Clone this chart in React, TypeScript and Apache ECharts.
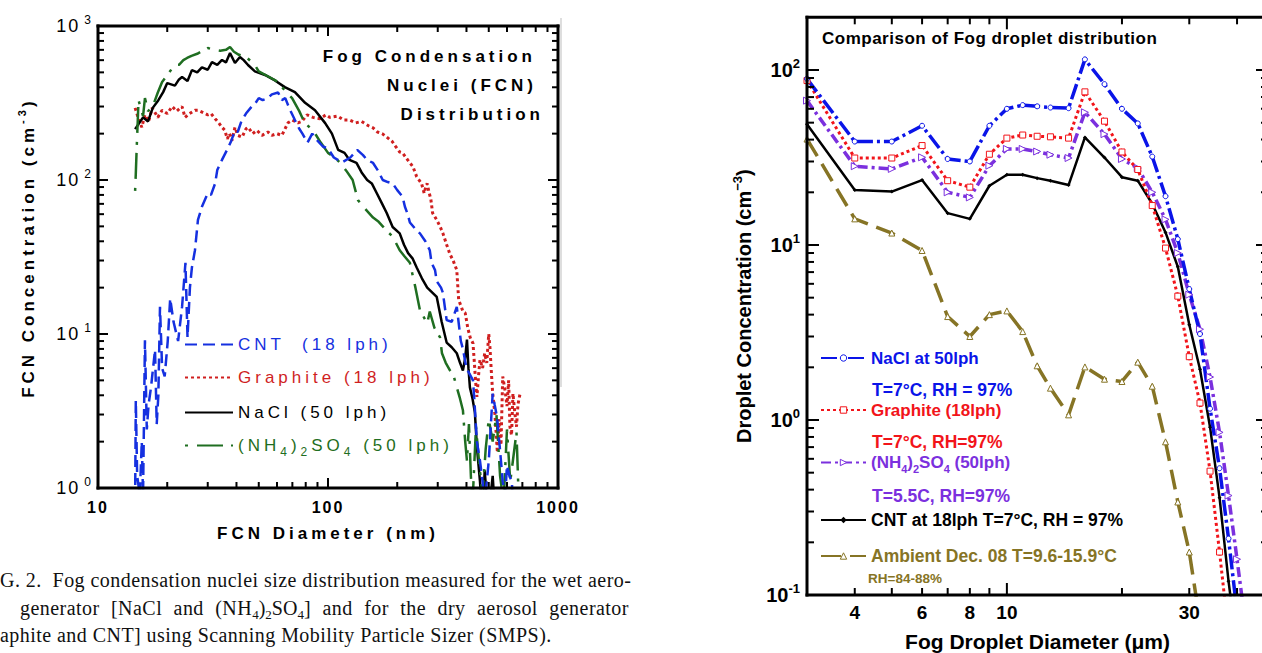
import React, { useEffect, useRef } from "react";
import * as echarts from "echarts";

// ================= Left panel: FCN size distribution (SMPS) =================
const cntD = [14.5, 14.6, 14.8, 15.2, 15.5, 15.7, 16.0, 16.3, 16.6, 17.0, 17.7, 18.0, 18.3, 18.6, 19.0, 19.5, 20.1, 20.6, 21.3, 22.3, 23.2, 24.0, 24.5, 25.1, 25.6, 26.4, 27.2, 28.3, 30, 31, 32.3, 33, 34.6, 36.4, 38, 39.4, 40.5, 42, 44, 46.6, 48, 50, 52, 54.8, 57, 60.7, 63, 65.2, 68, 71.8, 75, 77.4, 81.5, 85.4, 90, 95, 100, 106, 115, 125, 134, 142, 148, 157, 165, 173, 182, 191, 200, 211, 216, 222, 227, 240, 251, 265, 277, 282, 292, 297, 310, 316, 322, 328, 345, 363, 372, 378, 386, 400, 427, 432, 444, 458, 470, 480, 500, 520, 530, 543, 559, 575, 590, 600, 615, 630, 640];
const cntV = [0.8, 3.7, 1.2, 0.9, 2.0, 0.9, 9.1, 2.4, 3.5, 4.5, 7.9, 2.6, 4, 15, 6, 5.3, 9, 17, 12, 9, 15, 29, 9.5, 20, 27, 35, 55, 67, 82, 80, 95, 116, 135, 157, 180, 210, 205, 240, 270, 300, 310, 340, 330, 340, 360, 370, 330, 340, 290, 245, 215, 200, 175, 200, 180, 165, 160, 140, 130, 140, 157, 145, 135, 129, 115, 100, 97, 95, 86, 78, 67, 60, 53, 48, 45, 40, 35, 29, 26, 22, 20, 18.5, 15, 12.3, 12, 15, 11, 9, 8, 6, 5, 3.9, 2, 1.5, 1.1, 0.8, 1.5, 4.1, 3.5, 2.9, 1.8, 1.1, 0.9, 1.4, 1.2, 1.1, 0.7];

const graphiteD = [14.5, 15.0, 15.5, 16.0, 16.6, 17.2, 17.8, 18.2, 19, 20, 21, 22, 23.2, 23.9, 25, 26.4, 27.2, 28.5, 30, 31, 32.3, 33.5, 34.6, 35.6, 36.5, 37.3, 38.2, 39.4, 40.5, 42.3, 44, 45, 47, 49, 51.7, 54.8, 57, 60, 63, 67, 70, 74, 77, 81, 86, 92, 98, 102, 110, 117, 124, 132, 140, 150, 157, 164, 172, 180, 190, 197, 205, 211, 222, 234, 243, 255, 262, 266, 270, 274, 280, 285, 297, 307, 316, 328, 339, 350, 363, 370, 380, 386, 395, 405, 415, 427, 432, 438, 444, 452, 458, 470, 480, 490, 500, 506, 512, 520, 532, 545, 555, 565, 575, 590, 600, 610, 618, 628, 637, 650, 660, 670, 684];
const graphiteV = [294, 250, 220, 265, 240, 294, 270, 255, 284, 270, 300, 280, 300, 255, 270, 284, 284, 275, 265, 270, 250, 235, 220, 210, 185, 200, 180, 220, 195, 190, 215, 220, 200, 210, 195, 205, 195, 200, 195, 235, 245, 235, 240, 265, 255, 250, 265, 255, 260, 245, 245, 235, 240, 225, 218, 205, 200, 190, 178, 165, 152, 150, 135, 122, 105, 95, 82, 90, 95, 85, 75, 61, 55, 50, 45, 38, 33, 30, 26, 16.6, 15, 14, 13.7, 11, 9.5, 8.7, 6.8, 5, 3.9, 5.5, 6.8, 6, 7.5, 6.5, 10, 8.2, 6, 4.1, 3, 1.7, 2.8, 1.9, 5.3, 4.2, 3.4, 5, 2.5, 2.2, 4.1, 3, 2.5, 3.5, 4.1];

const naclD = [14.5, 15.7, 16.5, 17.3, 18.3, 19.2, 20, 21.6, 22.5, 23.2, 24.5, 25.6, 27, 28.3, 30, 31.3, 33, 34.6, 36, 37.5, 39.4, 41.4, 43, 44.9, 48.1, 53.2, 58.8, 64.9, 71.8, 79.5, 87.8, 97.2, 104, 110.7, 118, 124, 133, 140, 148, 155, 163, 172, 180, 191, 205, 214, 223, 233, 243, 256, 270, 285, 297, 312, 328, 345, 363, 375, 386, 395, 402, 408, 414, 425, 435, 444, 458, 470, 480, 495, 510, 520, 540];
const naclV = [214, 255, 240, 294, 330, 372, 426, 410, 450, 466, 440, 517, 500, 539, 520, 583, 560, 602, 580, 667, 575, 629, 600, 558, 507, 481, 443, 401, 372, 317, 284, 234, 200, 157, 150, 135, 129, 112, 100, 95, 82, 70, 61, 49.5, 45, 38, 33.5, 31, 27, 23, 20, 18.5, 17.4, 12, 8.8, 8.2, 7.5, 6.5, 5.8, 7, 9.2, 6, 4.5, 3.8, 3.1, 1.85, 1.1, 0.6, 1.3, 0.7, 0.9, 1.2, 0.5];

const ammD = [14.5, 14.6, 14.75, 14.9, 15.0, 15.7, 16.0, 16.5, 17.3, 18.2, 19, 20, 21, 21.6, 22.5, 23.5, 24.4, 25.5, 27, 28.5, 30, 32, 34, 36, 37.5, 39, 41, 44, 48, 50, 55, 60.7, 65, 69.8, 75, 79, 87, 93, 100, 107, 113, 120, 128, 135, 145, 157, 165, 173, 182, 191, 205, 215, 227, 240, 251, 260, 270, 277, 290, 307, 313, 325, 339, 350, 363, 375, 386, 395, 402, 410, 418, 425, 440, 455, 470, 485, 500, 520, 540, 560, 580, 600, 620, 660, 680];
const ammV = [85, 110, 170, 250, 330, 260, 340, 280, 300, 370, 433, 480, 530, 558, 560, 600, 620, 640, 660, 690, 720, 700, 690, 700, 730, 680, 650, 630, 560, 507, 470, 433, 380, 340, 280, 237, 205, 175, 150, 140, 129, 115, 100, 74, 65, 57, 54, 50, 46, 43, 35, 32, 29, 20, 14.3, 13, 11.7, 14, 11, 9.5, 7.5, 6.5, 5.8, 5.5, 4.5, 3.8, 3.2, 2.0, 1.5, 2.6, 1.2, 0.8, 2.5, 1.4, 0.9, 1.8, 2.8, 2.0, 3.0, 1.2, 0.8, 2.4, 1.1, 2.3, 0.6];

const leftXMajorTicks = [10, 100, 1000];
const leftXMinorTicks = [20, 30, 40, 50, 60, 70, 80, 90, 200, 300, 400, 500, 600, 700, 800, 900];
const leftXTickLabels = [10, 100, 1000];
const leftYMajorTicks = [1, 10, 100, 1000];
const leftYMinorTicks = [2, 3, 4, 5, 6, 7, 8, 9, 20, 30, 40, 50, 60, 70, 80, 90, 200, 300, 400, 500, 600, 700, 800, 900];

// ================= Right panel: fog droplet distribution =================
const dropletD = [3, 4, 5, 6, 7, 8, 9, 10, 11, 12, 13, 14.5, 16, 18, 20, 22, 24, 26, 28, 30, 32, 34, 36, 38, 40, 42];
const naclFogV = [89, 39, 39, 48, 31, 30, 48, 60, 63, 62, 61, 60.5, 115, 83, 60, 49.5, 32, 19, 10.8, 5.6, 3.1, 1.16, 0.53, 0.21, 0.08];
const graphiteFogV = [87, 31.4, 31.4, 37, 23.3, 21.4, 33, 40.8, 42.5, 41.8, 41.5, 40.8, 75, 51, 34, 27, 16.8, 9.6, 5.1, 2.3, 1.25, 0.51, 0.176, 0.06];
const ammFogV = [66.8, 28.2, 27.2, 31.7, 20, 18.7, 28.4, 35.4, 35.4, 34.2, 32.8, 31.4, 57.3, 43, 31, 27.5, 20, 14, 9, 5.2, 3.3, 1.76, 0.85, 0.37, 0.16, 0.07];
const cntFogV = [49, 20.6, 20.2, 23.5, 15.2, 14.1, 21.8, 25.2, 25.2, 24.1, 23.3, 22, 41.2, 31.6, 24.4, 23.3, 17.2, 11.8, 7.5, 3.5, 1.95, 0.91, 0.36, 0.12, 0.05];
const ambientFogV = [40.3, 14.1, 11.7, 9.3, 3.9, 3.0, 4.0, 4.2, 3.2, 2.04, 1.52, 1.07, 2.01, 1.71, 1.66, 2.14, 1.56, 0.75, 0.34, 0.176, 0.07];

const rightXMajorTicks = [10];
const rightXMinorTicks = [4, 5, 6, 7, 8, 9, 20, 30, 40];
const rightXTickLabels = [4, 6, 8, 10, 30];
const rightYMajorTicks = [0.1, 1, 10, 100];
const rightYMinorTicks = [0.2, 0.3, 0.4, 0.5, 0.6, 0.7, 0.8, 0.9, 2, 3, 4, 5, 6, 7, 8, 9, 20, 30, 40, 50, 60, 70, 80, 90];

// axis ranges
const L_X = [10, 1000];
const L_Y = [1, 1000];
const R_X = [3, 48.2];
const R_Y = [0.1, 200];

// ---------------- styling ----------------
const FONT = "Liberation Sans";
const SERIF = "Liberation Serif";
// font-family aliases that fall back to the real fonts; the CSS below adds letter spacing
const SP4 = "SpacedA, Liberation Sans";
const SP2 = "SpacedB, Liberation Sans";
const SPT = "SpacedD, Liberation Sans";
const SPC = "SpacedC, Liberation Serif";
const SPJ = "SpacedJ, Liberation Serif";
const SPACING_CSS = `
text[style*="SpacedA"]{letter-spacing:4px}
text[style*="SpacedB"]{letter-spacing:2px}
text[style*="SpacedD"]{letter-spacing:0.5px}
text[style*="SpacedC"]{letter-spacing:0.45px}
text[style*="SpacedJ"]{letter-spacing:0.45px;word-spacing:6px}
`;

const C_CNT = "#1530e0";
const C_GRA = "#d01f1f";
const C_AMM = "#1f6e21";
const R_BLUE = "#0a14e8";
const R_RED = "#f2141a";
const R_PURPLE = "#7b30de";
const R_OLIVE = "#867425";

function pairs(d: number[], v: number[]) {
  return v.map((y, i) => [d[i], y]);
}

const powLabel = (v: number) => `{b|10}{s|${Math.round(Math.log10(v))}}`;

const txt = (text: string, x: number, y: number, fill: string, fontSize: number, opts: any = {}) => ({
  type: "text",
  x,
  y,
  silent: true,
  style: {
    text,
    fill,
    fontSize,
    fontFamily: FONT,
    fontWeight: "bold",
    textAlign: "left",
    verticalAlign: "middle",
    textVerticalAlign: "middle",
    ...opts,
  },
});

function baseGraphic() {
  return [
    { type: "line", silent: true, shape: { x1: 561, y1: 18, x2: 561, y2: 387 }, style: { stroke: "#bdbdbd", lineWidth: 1 } },
    txt("Fog Condensation", 536, 56, "#000", 17, { textAlign: "right", fontFamily: SP4 }),
    txt("Nuclei (FCN)", 537, 85, "#000", 17, { textAlign: "right", fontFamily: SP4 }),
    txt("Distribution", 544, 114, "#000", 17, { textAlign: "right", fontFamily: SP4 }),
    {
      type: "group",
      x: 28,
      y: 124,
      rotation: Math.PI / 2,
      silent: true,
      children: [
        { type: "text", x: 0, y: 0, style: { text: "FCN Concentration (cm", fill: "#000", fontSize: 17, fontWeight: "bold", fontFamily: SP4, textAlign: "right", verticalAlign: "middle" } },
        { type: "text", x: 0, y: -6, style: { text: "-3", fill: "#000", fontSize: 11, fontWeight: "bold", fontFamily: SP4, textAlign: "left", verticalAlign: "middle" } },
        { type: "text", x: 17, y: 0, style: { text: ")", fill: "#000", fontSize: 17, fontWeight: "bold", fontFamily: SP4, textAlign: "left", verticalAlign: "middle" } },
      ],
    },
    txt("Comparison of Fog droplet distribution", 822, 38, "#000", 17, { fontFamily: SPT }),
    txt("T=7\u00b0C, RH = 97%", 872, 390, R_BLUE, 17.5),
    txt("T=7\u00b0C, RH=97%", 872, 442, R_RED, 17.5),
    txt("T=5.5C, RH=97%", 872, 496, R_PURPLE, 17.5),
    txt("RH=84-88%", 868, 578, R_OLIVE, 13.5),
    txt("G. 2.  Fog condensation nuclei size distribution measured for the wet aero-", 0, 580, "#111", 20, { fontFamily: SPC, fontWeight: "normal" }),
    {
      type: "text",
      x: 20,
      y: 608,
      silent: true,
      style: {
        text: "{j|generator [NaCl and (NH}{b|4}{n|)}{b|2}{m|SO}{b|4}{k|] and for the dry aerosol generator}",
        fill: "#111",
        fontSize: 20,
        fontFamily: SERIF,
        verticalAlign: "middle",
        textVerticalAlign: "middle",
        rich: {
          j: { fontSize: 20, fontFamily: SPJ, fill: "#111", color: "#111", lineHeight: 26, padding: [0, 28.4, 0, 0] },
          n: { fontSize: 20, fontFamily: SERIF, fill: "#111", color: "#111", lineHeight: 26 },
          m: { fontSize: 20, fontFamily: SERIF, fill: "#111", color: "#111", lineHeight: 26 },
          k: { fontSize: 20, fontFamily: SPJ, fill: "#111", color: "#111", lineHeight: 26 },
          b: { fontSize: 13, fontFamily: SERIF, fill: "#111", color: "#111", lineHeight: 15, verticalAlign: "bottom" },
        },
      },
    },
    txt("aphite and CNT] using Scanning Mobility Particle Sizer (SMPS).", 0, 635, "#111", 20, { fontFamily: SPC, fontWeight: "normal" }),
  ];
}

function buildOption() {
  const baseAxis = (gridIndex: number, range: number[]) => ({
    type: "log",
    logBase: 10,
    gridIndex,
    min: range[0],
    max: range[1],
    splitLine: { show: false },
    minorTick: { show: false },
    minorSplitLine: { show: false },
    axisLine: { show: false, onZero: false },
    axisTick: { show: false },
    axisPointer: { show: false },
    silent: true,
  });

  const xAxis = [
    {
      ...baseAxis(0, L_X),
      position: "bottom",
      axisLabel: { customValues: leftXTickLabels, formatter: (v: number) => String(v), margin: 11, color: "#000", fontSize: 16, fontWeight: "bold", fontFamily: SP2 },
      name: "FCN Diameter (nm)",
      nameLocation: "middle",
      nameGap: 37,
      nameTextStyle: { color: "#000", fontSize: 17, fontWeight: "bold", fontFamily: SP4 },
    },
    {
      ...baseAxis(1, R_X),
      position: "bottom",
      axisLabel: { customValues: rightXTickLabels, formatter: (v: number) => String(v), margin: 8, color: "#000", fontSize: 19, fontWeight: "bold", fontFamily: FONT },
      name: "Fog Droplet Diameter (\u03bcm)",
      nameLocation: "middle",
      nameGap: 36,
      nameTextStyle: { color: "#000", fontSize: 21, fontWeight: "bold", fontFamily: FONT },
    },
  ];

  const yAxis = [
    {
      ...baseAxis(0, L_Y),
      position: "left",
      axisLabel: {
        customValues: leftYMajorTicks,
        formatter: powLabel,
        margin: 7,
        color: "#000",
        rich: {
          b: { fontSize: 18, fontFamily: SP2, color: "#000", lineHeight: 24, padding: [0, 4, 0, 0] },
          s: { fontSize: 12, fontFamily: FONT, color: "#000", lineHeight: 13, verticalAlign: "top" },
        },
      },
    },
    {
      ...baseAxis(1, R_Y),
      position: "left",
      axisLabel: {
        customValues: rightYMajorTicks,
        formatter: powLabel,
        margin: 7,
        color: "#000",
        rich: {
          b: { fontSize: 20, fontWeight: "bold", fontFamily: FONT, color: "#000", lineHeight: 26 },
          s: { fontSize: 13, fontWeight: "bold", fontFamily: FONT, color: "#000", lineHeight: 14, verticalAlign: "top" },
        },
      },
      name: "{a|Droplet Concentration (cm}{s|\u22123}{a|)}",
      nameLocation: "middle",
      nameGap: 50,
      nameTextStyle: {
        rich: {
          a: { fontSize: 20, fontWeight: "bold", fontFamily: FONT, color: "#000", lineHeight: 26 },
          s: { fontSize: 13, fontWeight: "bold", fontFamily: FONT, color: "#000", lineHeight: 14, verticalAlign: "top" },
        },
      },
    },
  ];

  const leftSeries = (name: string, d: number[], v: number[], color: string, width: number, type: any) => ({
    type: "line", name, xAxisIndex: 0, yAxisIndex: 0, data: pairs(d, v), symbol: "none", clip: true, silent: true,
    lineStyle: { color, width, type }, itemStyle: { color },
  });

  const rightSeries = (name: string, v: number[], color: string, width: number, type: any, symbol: string, symbolSize: number, rotate: number, hollow: boolean) => ({
    type: "line", name, xAxisIndex: 1, yAxisIndex: 1, data: pairs(dropletD, v), symbol, symbolSize, symbolRotate: rotate, showSymbol: true, clip: true, silent: true,
    lineStyle: { color, width, type },
    itemStyle: hollow ? { color: "#fff", borderColor: color, borderWidth: 1 } : { color },
  });

  const leftLegend = (name: string, top: number, color: string, extra: any = {}) => ({
    show: true, data: [name], left: 184, top, padding: 0, itemGap: 0, itemWidth: 48, itemHeight: 10, selectedMode: false,
    itemStyle: { opacity: 0 },
    textStyle: { color, fontSize: 17, fontFamily: SP4, ...(extra.textStyle || {}) },
    ...(extra.formatter ? { formatter: extra.formatter } : {}),
  });

  const rightLegend = (name: string, top: number, color: string, itemStyle: any, extra: any = {}) => ({
    show: true, data: [name], left: 820, top, padding: 0, itemGap: 0, itemWidth: 45, itemHeight: 8, selectedMode: false,
    itemStyle,
    textStyle: { color, fontSize: 17, fontWeight: "bold", fontFamily: FONT, ...(extra.textStyle || {}) },
    ...(extra.formatter ? { formatter: extra.formatter } : {}),
  });

  const ammRichLeft = {
    t3: { fontSize: 17, fontFamily: SP4, color: C_AMM, lineHeight: 24, padding: [0, 12, 0, 0] },
    t1: { fontSize: 17, fontFamily: SP4, color: C_AMM, lineHeight: 24, padding: [0, 4, 0, 0] },
    t2: { fontSize: 17, fontFamily: SP4, color: C_AMM, lineHeight: 24, padding: [0, 8, 0, 0] },
    t9: { fontSize: 17, fontFamily: SP4, color: C_AMM, lineHeight: 24, padding: [0, 36, 0, 0] },
    s: { fontSize: 12, fontFamily: SP4, color: C_AMM, lineHeight: 12, verticalAlign: "bottom", padding: [0, 4, 0, 0] },
  };

  return {
    animation: false,
    grid: [
      { left: 98, top: 26, width: 460, height: 462, containLabel: false, outerBoundsMode: "none" },
      { left: 807, top: 17.3, width: 461, height: 577.7, containLabel: false, outerBoundsMode: "none" },
    ],
    xAxis,
    yAxis,
    legend: [
      leftLegend("CNT  (18 lph)", 336, C_CNT),
      leftLegend("Graphite (18 lph)", 369, C_GRA),
      leftLegend("NaCl (50 lph)", 404, "#000"),
      leftLegend("(NH4)2SO4 (50 lph)", 437, C_AMM, { formatter: () => "{t3|(NH}{s|4}{t1|)}{s|2}{t2|SO}{s|4}{t9| (50 lph)}", textStyle: { rich: ammRichLeft } }),
      rightLegend("NaCl at 50lph", 349.5, R_BLUE, { color: "#fff", borderColor: R_BLUE, borderWidth: 1 }),
      rightLegend("Graphite (18lph)", 401.5, R_RED, { color: "#fff", borderColor: R_RED, borderWidth: 1 }),
      rightLegend("(NH4)2SO4 (50lph)", 454, R_PURPLE, { color: "#fff", borderColor: R_PURPLE, borderWidth: 1 }, {
        formatter: () => "{a|(NH}{s|4}{a|)}{s|2}{a|SO}{s|4}{a| (50lph)}",
        textStyle: {
          rich: {
            a: { fontSize: 17, fontWeight: "bold", fontFamily: FONT, color: R_PURPLE, lineHeight: 24 },
            s: { fontSize: 11, fontWeight: "bold", fontFamily: FONT, color: R_PURPLE, lineHeight: 12, verticalAlign: "bottom" },
          },
        },
      }),
      rightLegend("CNT at 18lph T=7\u00b0C, RH = 97%", 511, "#000", { color: "#000" }, { textStyle: { fontSize: 17.5 } }),
      rightLegend("Ambient Dec. 08 T=9.6-15.9\u00b0C", 547, R_OLIVE, { color: "#fff", borderColor: R_OLIVE, borderWidth: 1 }, { textStyle: { fontSize: 17.5 } }),
    ],
    series: [
      leftSeries("Graphite (18 lph)", graphiteD, graphiteV, C_GRA, 3, [3, 3]),
      leftSeries("NaCl (50 lph)", naclD, naclV, "#000", 2.5, "solid"),
      leftSeries("(NH4)2SO4 (50 lph)", ammD, ammV, C_AMM, 2.5, [3, 9, 26, 8]),
      leftSeries("CNT  (18 lph)", cntD, cntV, C_CNT, 2.5, [12, 6]),
      rightSeries("Ambient Dec. 08 T=9.6-15.9\u00b0C", ambientFogV, R_OLIVE, 3.5, [20, 9], "triangle", 6, 0, true),
      rightSeries("CNT at 18lph T=7\u00b0C, RH = 97%", cntFogV, "#000", 2.5, "solid", "diamond", 4, 0, false),
      rightSeries("(NH4)2SO4 (50lph)", ammFogV, R_PURPLE, 3.5, [10, 4, 3, 4], "triangle", 7, -90, true),
      rightSeries("Graphite (18lph)", graphiteFogV, R_RED, 3, [3, 3], "rect", 6, 0, true),
      rightSeries("NaCl at 50lph", naclFogV, R_BLUE, 3.5, [16, 4, 3, 4], "circle", 5, 0, true),
    ],
    graphic: baseGraphic(),
  };
}

// frame (four edges) + inward ticks on all four sides, positioned through the chart's own axis scales
function frameGraphic(chart: any, idx: number, xr: number[], yr: number[], xMaj: number[], xMin: number[], yMaj: number[], yMin: number[], majLen: number, minLen: number) {
  const conv = (x: number, y: number) => chart.convertToPixel({ xAxisIndex: idx, yAxisIndex: idx }, [x, y]) as number[];
  const out: any[] = [];
  const seg = (x1: number, y1: number, x2: number, y2: number, w: number) => ({
    type: "line",
    silent: true,
    z: 100,
    shape: { x1, y1, x2, y2 },
    style: { stroke: "#000", lineWidth: w, lineCap: "square" },
  });
  const tl = conv(xr[0], yr[1]);
  const br = conv(xr[1], yr[0]);
  out.push(seg(tl[0], tl[1], br[0], tl[1], 3));
  out.push(seg(tl[0], br[1], br[0], br[1], 3));
  out.push(seg(tl[0], tl[1], tl[0], br[1], 3));
  out.push(seg(br[0], tl[1], br[0], br[1], 3));
  const xt = (vals: number[], len: number) => vals.forEach((v) => {
    const b = conv(v, yr[0]);
    const t = conv(v, yr[1]);
    out.push(seg(b[0], b[1], b[0], b[1] - len, 2));
    out.push(seg(t[0], t[1], t[0], t[1] + len, 2));
  });
  const yt = (vals: number[], len: number) => vals.forEach((v) => {
    const l = conv(xr[0], v);
    const r = conv(xr[1], v);
    out.push(seg(l[0], l[1], l[0] + len, l[1], 2));
    out.push(seg(r[0], r[1], r[0] - len, r[1], 2));
  });
  xt(xMaj, majLen);
  xt(xMin, minLen);
  yt(yMaj, majLen);
  yt(yMin, minLen);
  return out;
}

export default function App() {
  const ref = useRef<HTMLDivElement>(null);
  useEffect(() => {
    if (!ref.current) return;
    const chart = echarts.init(ref.current, null, { renderer: "svg" });
    chart.setOption(buildOption() as any);
    const frames = [
      ...frameGraphic(chart, 0, L_X, L_Y, leftXMajorTicks, leftXMinorTicks, leftYMajorTicks, leftYMinorTicks, 9, 5),
      ...frameGraphic(chart, 1, R_X, R_Y, rightXMajorTicks, rightXMinorTicks, rightYMajorTicks, rightYMinorTicks, 11, 6),
    ];
    chart.setOption({ graphic: [...baseGraphic(), ...frames] } as any);
    return () => chart.dispose();
  }, []);
  return (
    <>
      <style>{SPACING_CSS}</style>
      <div ref={ref} style={{ position: "absolute", left: 0, top: 0, width: 1262, height: 653, background: "#fff" }} />
    </>
  );
}
